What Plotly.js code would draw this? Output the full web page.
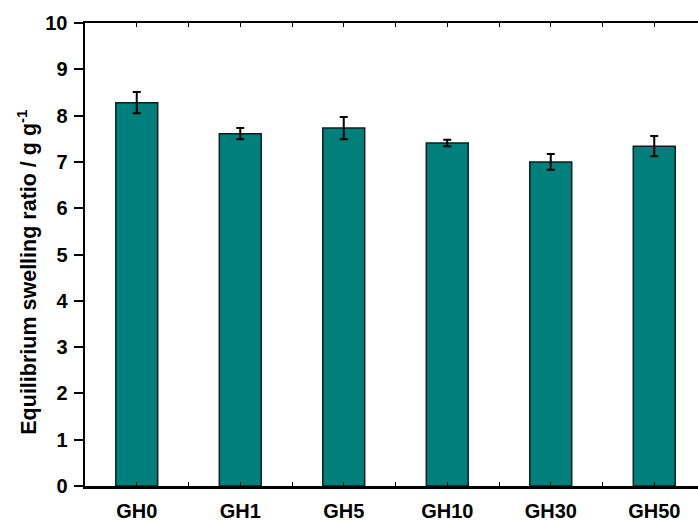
<!DOCTYPE html>
<html>
<head>
<meta charset="utf-8">
<script src="https://cdn.plot.ly/plotly-3.0.1.min.js"></script>
<style>
  html, body { margin: 0; padding: 0; overflow: hidden; background: #fff; }
  #chart { width: 720px; height: 520px; }
</style>
</head>
<body>
<div id="chart"></div>
<script>
// Sample names and their equilibrium swelling ratios (g/g) with standard deviations
const samples = ['GH0', 'GH1', 'GH5', 'GH10', 'GH30', 'GH50'];
const swellingRatio = [8.28, 7.61, 7.73, 7.41, 7.00, 7.34];
const swellingError = [0.23, 0.12, 0.24, 0.07, 0.17, 0.22];
const yTicks = [0, 1, 2, 3, 4, 5, 6, 7, 8, 9, 10];
const yTitle = 'Equilibrium swelling ratio / g g<sup>-1</sup>';

const positions = samples.map((_, i) => i);
const font = 'Liberation Sans, Arial, sans-serif';

const trace = {
  type: 'bar',
  x: positions,
  y: swellingRatio,
  width: 0.405,
  marker: { color: '#007f7b', line: { color: '#0a1f1e', width: 1.5 } },
  error_y: { type: 'data', array: swellingError, visible: true, color: '#000', thickness: 2, width: 4 },
  hoverinfo: 'skip'
};

const layout = {
  width: 720,
  height: 520,
  margin: { l: 85, r: 14, t: 23, b: 34 },
  paper_bgcolor: '#fff',
  plot_bgcolor: '#fff',
  showlegend: false,
  bargap: 0,
  xaxis: {
    range: [-0.5, 5.5],
    tickvals: positions,
    ticktext: samples,
    ticks: 'inside',
    ticklen: 4,
    tickwidth: 1,
    tickcolor: '#000',
    minor: { dtick: 0.5, ticks: 'inside', ticklen: 4, tickwidth: 1, tickcolor: '#000' },
    showline: true,
    linecolor: '#000',
    linewidth: 2.5,
    mirror: 'ticks',
    showgrid: false,
    zeroline: false,
    ticklabelstandoff: 5,
    tickfont: { family: font, size: 20, color: '#000', weight: 'bold' }
  },
  yaxis: {
    range: [0, 10],
    tickvals: yTicks,
    ticks: 'outside',
    ticklen: 9,
    tickwidth: 2,
    tickcolor: '#000',
    showline: true,
    linecolor: '#000',
    linewidth: 2.5,
    mirror: 'ticks',
    showgrid: false,
    zeroline: false,
    ticklabelstandoff: 2,
    tickfont: { family: font, size: 20, color: '#000', weight: 'bold' }
  },
  // Rotated y-axis title, placed a little below the axis midpoint
  annotations: [{
    text: yTitle,
    textangle: -90,
    xref: 'paper', yref: 'paper',
    x: -0.094, y: 0.462,
    xanchor: 'center', yanchor: 'middle',
    showarrow: false,
    font: { family: font, size: 21.5, color: '#000', weight: 'bold' }
  }]
};

Plotly.newPlot('chart', [trace], layout, { displayModeBar: false, staticPlot: true });
</script>
</body>
</html>
